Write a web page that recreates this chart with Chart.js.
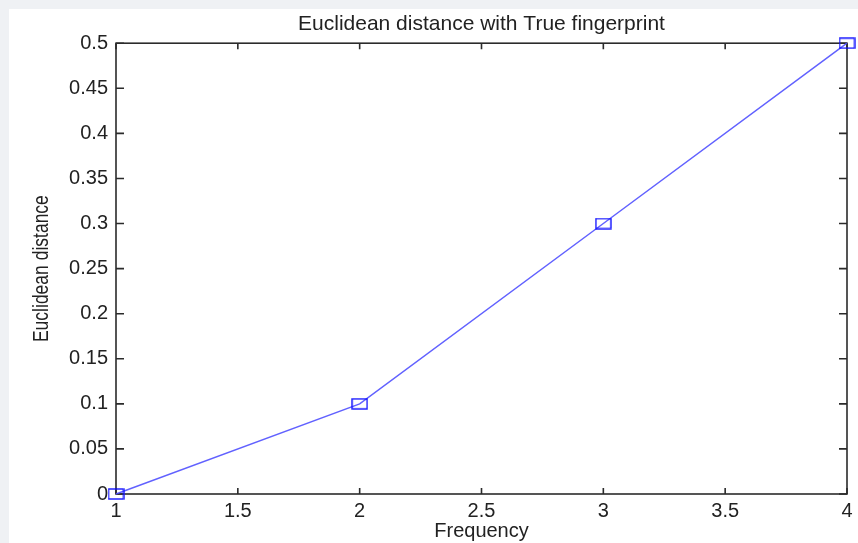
<!DOCTYPE html>
<html>
<head>
<meta charset="utf-8">
<title>Euclidean distance with True fingerprint</title>
<script src="https://cdn.jsdelivr.net/npm/chart.js@4.4.0/dist/chart.umd.min.js"></script>
<style>
  html, body { margin: 0; padding: 0; background: #eff1f4; }
  #wrap { position: absolute; left: 9px; top: 9px; width: 849px; height: 534px; background: #fff; }
</style>
</head>
<body>
<div id="wrap"><canvas id="chart" width="849" height="534"></canvas></div>
<script>
// Data
var frequency = [1, 2, 3, 4];
var distance = [0, 0.1, 0.3, 0.5];

// Tick values and labels
var xTicks = [1, 1.5, 2, 2.5, 3, 3.5, 4];
var xTickLabels = ['1', '1.5', '2', '2.5', '3', '3.5', '4'];
var yTicks = [0, 0.05, 0.1, 0.15, 0.2, 0.25, 0.3, 0.35, 0.4, 0.45, 0.5];
var yTickLabels = ['0', '0.05', '0.1', '0.15', '0.2', '0.25', '0.3', '0.35', '0.4', '0.45', '0.5'];

var FONT = "'Liberation Sans', Arial, sans-serif";
var TEXT = '#222';

// Open square marker, a bit wider than tall like in the figure
var marker = document.createElement('canvas');
marker.width = 17;
marker.height = 12;
(function () {
  var m = marker.getContext('2d');
  m.strokeStyle = '#1414ff';
  m.lineWidth = 1.4;
  m.strokeRect(1, 1, 15, 10);
})();

// Box around the plot with inward ticks on every side
var framePlugin = {
  id: 'frame',
  beforeDatasetsDraw: function (chart) {
    var ctx = chart.ctx;
    var a = chart.chartArea;
    var xs = chart.scales.x;
    var ys = chart.scales.y;
    ctx.save();
    ctx.strokeStyle = '#2b2b2b';
    ctx.lineWidth = 1.6;
    ctx.strokeRect(a.left, a.top, a.right - a.left, a.bottom - a.top);
    ctx.beginPath();
    xTicks.forEach(function (v) {
      var px = xs.getPixelForValue(v);
      ctx.moveTo(px, a.bottom);
      ctx.lineTo(px, a.bottom - 6);
      ctx.moveTo(px, a.top);
      ctx.lineTo(px, a.top + 6);
    });
    yTicks.forEach(function (v) {
      var py = ys.getPixelForValue(v);
      ctx.moveTo(a.left, py);
      ctx.lineTo(a.left + 8, py);
      ctx.moveTo(a.right, py);
      ctx.lineTo(a.right - 8, py);
    });
    ctx.stroke();
    ctx.restore();
  },
  // y axis title, squeezed like the original
  afterDraw: function (chart) {
    var ctx = chart.ctx;
    var a = chart.chartArea;
    ctx.save();
    ctx.translate(33, (a.top + a.bottom) / 2);
    ctx.rotate(-Math.PI / 2);
    ctx.scale(1, 1.3);
    ctx.font = '17.5px ' + FONT;
    ctx.fillStyle = TEXT;
    ctx.textAlign = 'center';
    ctx.textBaseline = 'middle';
    ctx.fillText('Euclidean distance', 0, 0);
    ctx.restore();
  }
};

var ctx = document.getElementById('chart');
var chart = new Chart(ctx, {
  type: 'line',
  data: {
    datasets: [{
      label: 'Euclidean distance',
      data: frequency.map(function (f, i) { return { x: f, y: distance[i] }; }),
      borderColor: 'rgba(80, 80, 255, 0.9)',
      borderWidth: 1.5,
      backgroundColor: 'rgba(0, 0, 0, 0)',
      fill: false,
      tension: 0,
      pointStyle: marker,
      pointRadius: 6,
      clip: false
    }]
  },
  options: {
    responsive: false,
    animation: false,
    events: [],
    layout: { padding: { left: 0, right: 11, top: 0, bottom: 0 } },
    plugins: {
      legend: { display: false },
      tooltip: { enabled: false },
      title: {
        display: true,
        fullSize: false,
        text: 'Euclidean distance with True fingerprint',
        color: TEXT,
        font: { family: FONT, size: 21, weight: 'normal' },
        padding: { top: 3, bottom: 6 }
      }
    },
    scales: {
      x: {
        type: 'linear',
        min: 1,
        max: 4,
        grid: { display: false, drawTicks: false },
        border: { display: false },
        afterBuildTicks: function (scale) {
          scale.ticks = xTicks.map(function (v) { return { value: v }; });
        },
        afterFit: function (scale) { scale.height = 49; },
        ticks: {
          color: TEXT,
          padding: 5,
          maxRotation: 0,
          autoSkip: false,
          font: { family: FONT, size: 20 },
          callback: function (value, index) { return xTickLabels[index]; }
        },
        title: {
          display: true,
          text: 'Frequency',
          color: TEXT,
          font: { family: FONT, size: 20 },
          padding: { top: 0, bottom: 0 }
        }
      },
      y: {
        type: 'linear',
        min: 0,
        max: 0.5,
        grid: { display: false, drawTicks: false },
        border: { display: false },
        afterBuildTicks: function (scale) {
          scale.ticks = yTicks.map(function (v) { return { value: v }; });
        },
        afterFit: function (scale) { scale.width = 107; },
        ticks: {
          color: TEXT,
          padding: 8,
          autoSkip: false,
          font: { family: FONT, size: 20 },
          callback: function (value, index) { return yTickLabels[index]; }
        }
      }
    }
  },
  plugins: [framePlugin]
});
</script>
</body>
</html>
